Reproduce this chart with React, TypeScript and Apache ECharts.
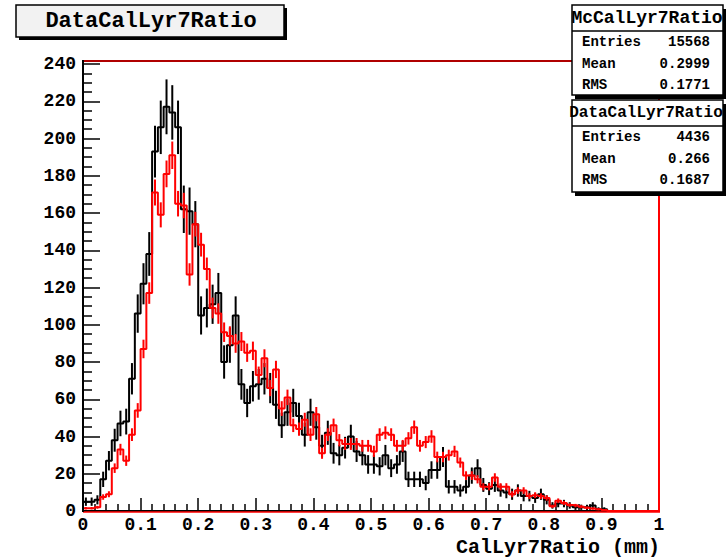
import React, { useEffect, useRef } from "react";
import * as echarts from "echarts";

// Histogram binning: 100 bins from 0 to 1
const X_MIN = 0;
const X_MAX = 1;
const N_BINS = 100;

// Data histogram (black), counts per bin
const dataCounts = [
  5, 5, 6, 17, 27, 38, 47, 48, 71, 106,
  122, 138, 193, 206, 217, 214, 206, 162, 161, 154,
  105, 109, 111, 117, 80, 89, 105, 68, 58, 67,
  68, 71, 66, 57, 46, 53, 58, 51, 41, 53,
  45, 35, 42, 31, 30, 34, 40, 32, 30, 25,
  25, 24, 30, 23, 25, 32, 17, 17, 17, 15,
  22, 22, 29, 13, 13, 11, 13, 19, 23, 14,
  12, 14, 11, 10, 9, 11, 8, 8, 7, 9,
  6, 3, 4, 4, 3, 2, 2, 2, 3, 1,
  1, 0, 0, 0, 0, 0, 0, 0, 0, 0,
];

// MC histogram (red), scaled to data entries
const mcCounts = [
  1.5, 1.5, 2, 7.5, 9, 23, 33, 27, 41, 54,
  87, 117, 171, 159, 181, 191, 165, 164, 127, 154,
  143, 130, 109, 106, 96, 94, 90, 91, 85, 86,
  73, 82, 66, 76, 55, 61, 46, 44, 49, 41,
  52, 31, 41, 46, 38, 36, 36, 36, 35, 35,
  32, 41, 42, 41, 35, 35, 39, 45, 35, 37,
  40, 29, 29, 30, 32, 26, 19, 19, 17, 13,
  13, 18, 13, 13, 9, 11, 11, 8, 8.5, 8,
  7, 2.5, 5.5, 4.3, 3.2, 2.9, 2.3, 1.7, 1.3, 0.9,
  0.5, 0, 0, 0, 0, 0, 0, 0, 0, 0,
];

const dataEntries = 4436;
const mcEntries = 15568;

const mcStats = [
  ["Entries", "15568"],
  ["Mean", "0.2999"],
  ["RMS", "0.1771"],
];
const dataStats = [
  ["Entries", "4436"],
  ["Mean", "0.266"],
  ["RMS", "0.1687"],
];

const FONT = "Liberation Mono";

function stepData(counts: number[]) {
  const w = (X_MAX - X_MIN) / N_BINS;
  const pts: number[][] = counts.map((v, i) => [X_MIN + i * w, v]);
  pts.push([X_MAX, counts[counts.length - 1]]);
  return pts;
}

function errData(counts: number[], scale: number) {
  const w = (X_MAX - X_MIN) / N_BINS;
  const out: number[][] = [];
  counts.forEach((v, i) => {
    if (v > 0) out.push([X_MIN + (i + 0.5) * w, v, Math.sqrt(v * scale)]);
  });
  return out;
}

function errSeries(counts: number[], scale: number, color: string, z: number) {
  return {
    type: "custom",
    z,
    data: errData(counts, scale),
    renderItem: (_p: any, api: any) => {
      const x = api.value(0);
      const v = api.value(1);
      const e = api.value(2);
      const a = api.coord([x, Math.max(0, v - e)]);
      const b = api.coord([x, v + e]);
      return {
        type: "line",
        shape: { x1: a[0], y1: a[1], x2: b[0], y2: b[1] },
        style: { stroke: color, lineWidth: 2 },
      };
    },
  };
}

function statsBox(
  x: number, y: number, w: number, h: number,
  title: string, titleSize: number, titleX: number, rows: string[][]
) {
  const Z = 100;
  const els: any[] = [
    { type: "rect", z: Z, shape: { x: x + 3, y: y + 4, width: w, height: h }, style: { fill: "#000" } },
    { type: "rect", z: Z + 1, shape: { x, y, width: w, height: h }, style: { fill: "#fff", stroke: "#000", lineWidth: 1.5 } },
    { type: "line", z: Z + 2, shape: { x1: x, y1: y + 26, x2: x + w, y2: y + 26 }, style: { stroke: "#000", lineWidth: 1.5 } },
    {
      type: "text",
      z: Z + 2,
      style: { x: titleX, y: y + 13, text: title, align: "center", verticalAlign: "middle", font: `bold ${titleSize}px "${FONT}"`, fill: "#000" },
    },
  ];
  rows.forEach((r, i) => {
    const cy = y + 37 + i * 21.5;
    els.push({
      type: "text",
      z: Z + 2,
      style: { x: x + 10, y: cy, text: r[0], align: "left", verticalAlign: "middle", font: `bold 14px "${FONT}"`, fill: "#000" },
    });
    els.push({
      type: "text",
      z: Z + 2,
      style: { x: x + 138, y: cy, text: r[1], align: "right", verticalAlign: "middle", font: `bold 14px "${FONT}"`, fill: "#000" },
    });
  });
  return els;
}

export default function App() {
  const ref = useRef<HTMLDivElement>(null);
  useEffect(() => {
    document.body.style.margin = "0";
    const chart = echarts.init(ref.current!, null, { renderer: "svg" });
    const mcScale = dataEntries / mcEntries;
    const labelStyle = { color: "#000", fontFamily: FONT, fontWeight: "bold", fontSize: 18 };
    chart.setOption({
      animation: false,
      backgroundColor: "#fff",
      grid: { left: 83, right: 67, top: 64, bottom: 48 },
      xAxis: {
        type: "value",
        min: X_MIN,
        max: X_MAX,
        interval: 0.1,
        axisLine: { show: true, onZero: false, lineStyle: { color: "#000", width: 2 } },
        axisTick: { show: true, inside: true, length: 13, lineStyle: { color: "#000", width: 1.5 } },
        minorTick: { show: true, splitNumber: 5, length: 7, lineStyle: { color: "#000", width: 1.5 } },
        splitLine: { show: false },
        axisLabel: { ...labelStyle, margin: 5, formatter: (v: number) => String(+v.toFixed(1)) },
      },
      yAxis: {
        type: "value",
        min: 0,
        max: 240,
        interval: 20,
        axisLine: { show: true, onZero: false, lineStyle: { color: "#000", width: 2 } },
        axisTick: { show: true, inside: true, length: 17, lineStyle: { color: "#000", width: 1.5 } },
        minorTick: { show: true, splitNumber: 4, length: 9, lineStyle: { color: "#000", width: 1.5 } },
        splitLine: { show: false },
        axisLabel: { ...labelStyle, margin: 7, padding: [5, 0, 0, 0] },
      },
      series: [
        {
          type: "line",
          step: "end",
          data: stepData(dataCounts),
          showSymbol: false,
          lineStyle: { color: "#000", width: 2 },
          z: 2,
        },
        errSeries(dataCounts, 1, "#000", 3),
        {
          type: "line",
          step: "end",
          data: stepData(mcCounts),
          showSymbol: false,
          lineStyle: { color: "#ff0000", width: 2 },
          z: 4,
        },
        errSeries(mcCounts, mcScale, "#ff0000", 5),
      ],
      graphic: [
        // frame
        { type: "line", shape: { x1: 83, y1: 61, x2: 660, y2: 61 }, style: { stroke: "#b00000", lineWidth: 2 }, z: 50 },
        { type: "line", shape: { x1: 659, y1: 60, x2: 659, y2: 512 }, style: { stroke: "#ff0000", lineWidth: 2 }, z: 50 },
        { type: "line", shape: { x1: 83, y1: 512, x2: 660, y2: 512 }, style: { stroke: "#ff0000", lineWidth: 1.5 }, z: 50 },
        { type: "line", shape: { x1: 83, y1: 60, x2: 83, y2: 512 }, style: { stroke: "#000", lineWidth: 2 }, z: 51 },
        // title box
        { type: "rect", shape: { x: 19, y: 8, width: 268, height: 32 }, style: { fill: "#000" }, z: 100 },
        { type: "rect", shape: { x: 16, y: 5, width: 268, height: 32 }, style: { fill: "#f2f2f2", stroke: "#000", lineWidth: 1.5 }, z: 101 },
        {
          type: "text",
          z: 102,
          style: { x: 151, y: 21, text: "DataCalLyr7Ratio", align: "center", verticalAlign: "middle", font: `bold 22px "${FONT}"`, fill: "#000" },
        },
        // axis title
        {
          type: "text",
          z: 102,
          style: { x: 660, y: 547, text: "CalLyr7Ratio (mm)", align: "right", verticalAlign: "middle", font: `bold 20px "${FONT}"`, fill: "#000" },
        },
        ...statsBox(572, 5, 151, 90, "McCalLyr7Ratio", 18, 647, mcStats),
        ...statsBox(572, 100, 151, 92, "DataCalLyr7Ratio", 16, 646, dataStats),
      ],
    });
    return () => chart.dispose();
  }, []);
  return <div ref={ref} style={{ width: 726, height: 559 }} />;
}
